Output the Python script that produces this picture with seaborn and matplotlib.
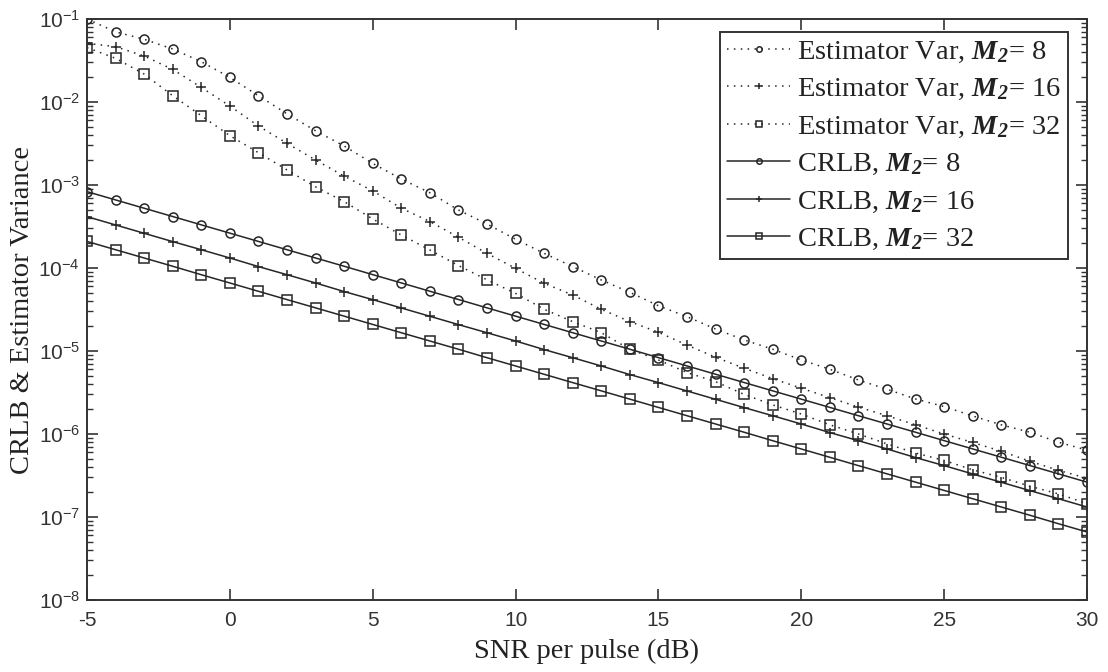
import matplotlib
matplotlib.use("Agg")
import matplotlib.pyplot as plt
import matplotlib.ticker as mticker
import seaborn as sns
import numpy as np

# --- DATA ---
snr_db = list(range(-5, 31))

est_var_m8 = [1.00e-1, 7.0e-2, 5.7e-2, 4.35e-2, 3.06e-2, 1.98e-2, 1.19e-2, 7.2e-3, 4.5e-3, 2.95e-3,
              1.82e-3, 1.18e-3, 8.07e-4, 5.0e-4, 3.39e-4, 2.22e-4, 1.50e-4, 1.04e-4, 7.17e-5, 5.09e-5,
              3.51e-5, 2.59e-5, 1.84e-5, 1.36e-5, 1.05e-5, 7.8e-6, 6.03e-6, 4.47e-6, 3.46e-6, 2.64e-6,
              2.14e-6, 1.65e-6, 1.29e-6, 1.05e-6, 7.96e-7, 6.4e-7]
est_var_m16 = [5.1e-2, 4.64e-2, 3.58e-2, 2.47e-2, 1.50e-2, 8.95e-3, 5.14e-3, 3.18e-3, 2.0e-3, 1.28e-3,
               8.5e-4, 5.25e-4, 3.63e-4, 2.35e-4, 1.50e-4, 9.9e-5, 6.54e-5, 4.73e-5, 3.18e-5, 2.26e-5,
               1.68e-5, 1.18e-5, 8.4e-6, 6.2e-6, 4.65e-6, 3.56e-6, 2.74e-6, 2.11e-6, 1.66e-6, 1.29e-6,
               1.0e-6, 7.9e-7, 6.2e-7, 4.7e-7, 3.65e-7, 2.93e-7]
est_var_m32 = [4.52e-2, 3.36e-2, 2.17e-2, 1.19e-2, 6.84e-3, 3.93e-3, 2.45e-3, 1.52e-3, 9.5e-4, 6.3e-4,
               3.9e-4, 2.5e-4, 1.65e-4, 1.07e-4, 7.2e-5, 4.95e-5, 3.18e-5, 2.26e-5, 1.66e-5, 1.05e-5,
               7.8e-6, 5.5e-6, 4.27e-6, 3.0e-6, 2.24e-6, 1.74e-6, 1.29e-6, 1.0e-6, 7.6e-7, 5.9e-7,
               4.8e-7, 3.7e-7, 3.0e-7, 2.35e-7, 1.9e-7, 1.45e-7]

crlb_m8 = [8.32e-4, 6.61e-4, 5.25e-4, 4.17e-4, 3.31e-4, 2.63e-4, 2.09e-4, 1.66e-4, 1.32e-4, 1.05e-4,
           8.32e-5, 6.61e-5, 5.25e-5, 4.17e-5, 3.31e-5, 2.63e-5, 2.09e-5, 1.66e-5, 1.32e-5, 1.05e-5,
           8.32e-6, 6.61e-6, 5.25e-6, 4.17e-6, 3.31e-6, 2.63e-6, 2.09e-6, 1.66e-6, 1.32e-6, 1.05e-6,
           8.32e-7, 6.61e-7, 5.25e-7, 4.17e-7, 3.31e-7, 2.63e-7]
crlb_m16 = [4.16e-4, 3.30e-4, 2.62e-4, 2.08e-4, 1.66e-4, 1.32e-4, 1.04e-4, 8.3e-5, 6.6e-5, 5.2e-5,
            4.16e-5, 3.30e-5, 2.62e-5, 2.08e-5, 1.66e-5, 1.32e-5, 1.04e-5, 8.3e-6, 6.6e-6, 5.2e-6,
            4.16e-6, 3.30e-6, 2.62e-6, 2.08e-6, 1.66e-6, 1.32e-6, 1.04e-6, 8.3e-7, 6.6e-7, 5.2e-7,
            4.16e-7, 3.30e-7, 2.62e-7, 2.08e-7, 1.66e-7, 1.32e-7]
crlb_m32 = [2.09e-4, 1.66e-4, 1.32e-4, 1.05e-4, 8.3e-5, 6.6e-5, 5.24e-5, 4.16e-5, 3.31e-5, 2.63e-5,
            2.09e-5, 1.66e-5, 1.32e-5, 1.05e-5, 8.3e-6, 6.6e-6, 5.24e-6, 4.16e-6, 3.31e-6, 2.63e-6,
            2.09e-6, 1.66e-6, 1.32e-6, 1.05e-6, 8.3e-7, 6.6e-7, 5.24e-7, 4.16e-7, 3.31e-7, 2.63e-7,
            2.09e-7, 1.66e-7, 1.32e-7, 1.05e-7, 8.3e-8, 6.6e-8]

series_labels = [
    r'Estimator Var, $\mathbf{M_2}$= 8',
    r'Estimator Var, $\mathbf{M_2}$= 16',
    r'Estimator Var, $\mathbf{M_2}$= 32',
    r'CRLB, $\mathbf{M_2}$= 8',
    r'CRLB, $\mathbf{M_2}$= 16',
    r'CRLB, $\mathbf{M_2}$= 32',
]
x_ticks = [-5, 0, 5, 10, 15, 20, 25, 30]

# --- AESTHETIC CONFIGURATION ---
sns.set_theme(style="ticks")
plt.rcParams.update({
    'font.family': ['Liberation Serif', 'DejaVu Serif'],
    'mathtext.fontset': 'custom',
    'mathtext.rm': 'Liberation Serif',
    'mathtext.bf': 'Liberation Serif:italic:bold',
    'axes.unicode_minus': False,
    'axes.edgecolor': '#333333',
    'axes.linewidth': 1.4,
})

LINE = '#262626'
fig = plt.figure(figsize=(11.08, 6.72), dpi=100)
ax = fig.add_axes([87 / 1108, 1 - 600 / 672, 1000 / 1108, 581 / 672])

dotted = (0, (1, 3.5))
styles = [
    (est_var_m8, 'o', dotted),
    (est_var_m16, '+', dotted),
    (est_var_m32, 's', dotted),
    (crlb_m8, 'o', '-'),
    (crlb_m16, '+', '-'),
    (crlb_m32, 's', '-'),
]

for (vals, mk, ls), lab in zip(styles, series_labels):
    sns.lineplot(x=snr_db, y=vals, ax=ax, color=LINE, linestyle=ls, linewidth=1.1,
                 marker=mk, markersize=7.5 if mk == '+' else 6.5, markerfacecolor='none',
                 markeredgecolor=LINE, markeredgewidth=1.1, label=lab)

ax.set_yscale('log')
ax.set_xlim(-5, 30)
ax.set_ylim(1e-8, 1e-1)
ax.set_xticks(x_ticks)
ax.yaxis.set_major_locator(mticker.FixedLocator([10.0 ** e for e in range(-8, 0)]))
ax.yaxis.set_major_formatter(mticker.LogFormatterSciNotation())
minor_y = [m * 10.0 ** e for e in range(-8, -1) for m in range(2, 10)]
ax.yaxis.set_minor_locator(mticker.FixedLocator(minor_y))
ax.yaxis.set_minor_formatter(mticker.NullFormatter())

ax.tick_params(which='both', direction='in', top=True, right=True, colors='#333333',
               labelcolor='#333333', labelsize=15, labelfontfamily='Liberation Sans')
ax.tick_params(which='major', length=8, width=1.2)
ax.tick_params(axis='y', which='major', pad=5)
ax.tick_params(axis='x', which='major', pad=8)
ax.tick_params(axis='y', which='minor', length=4.5, width=1.0, left=True, right=True)
ax.tick_params(axis='x', which='minor', bottom=False, top=False)

ax.set_xlabel('SNR per pulse (dB)', fontsize=20.5, color='#222222', labelpad=6)
ax.set_ylabel('CRLB & Estimator Variance', fontsize=20.5, color='#222222')
ax.yaxis.set_label_coords(-0.052, 0.5)

leg = ax.legend(loc='upper right', bbox_to_anchor=(0.981, 0.978), borderaxespad=0,
                fontsize=20.5, frameon=True, fancybox=False, framealpha=1,
                edgecolor='#333333', handlelength=2.2, handletextpad=0.25,
                labelspacing=0.4, borderpad=0.25, markerscale=0.6)
leg.get_frame().set_linewidth(1.4)
for t in leg.get_texts():
    t.set_color('#222222')

fig.savefig('out.png', dpi=100, facecolor='white')
